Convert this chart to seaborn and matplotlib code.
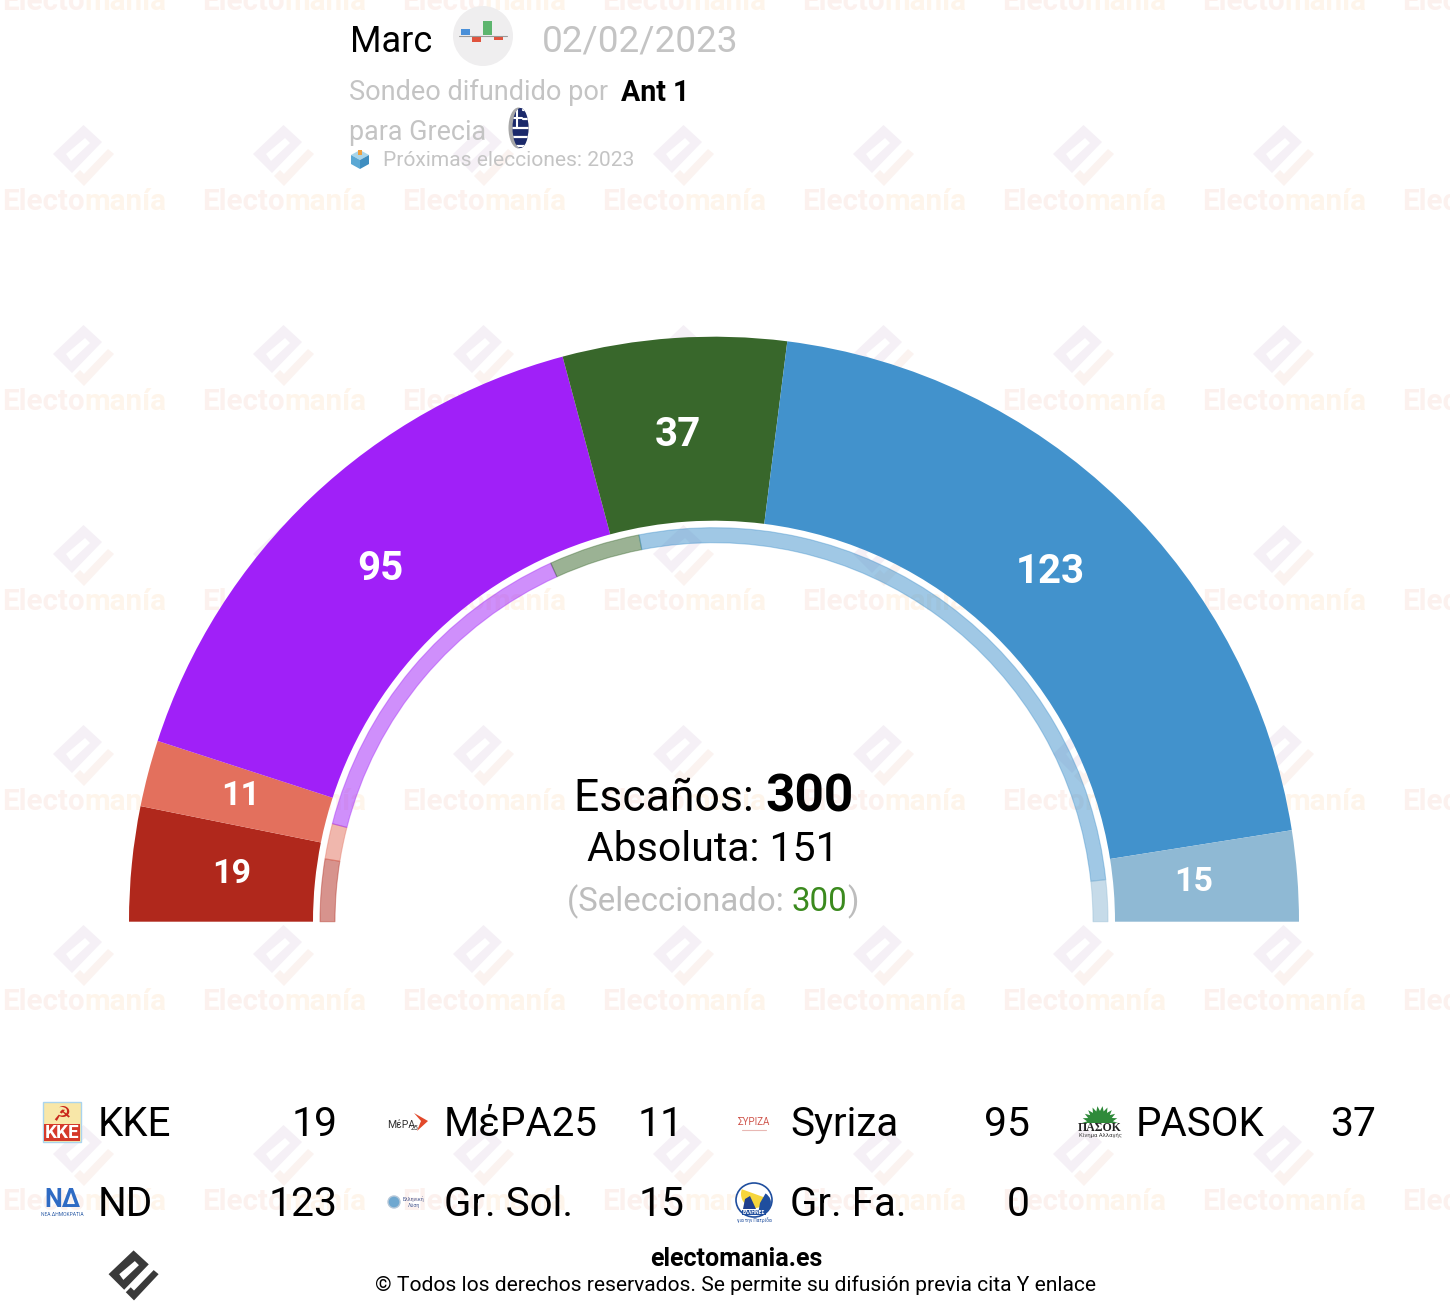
# Seat hemicycle for a Greek poll, with the legend table underneath

import numpy as np
import matplotlib
matplotlib.use('Agg')
import matplotlib.pyplot as plt
from matplotlib.patches import Polygon, Circle, Ellipse, Rectangle, Wedge
import seaborn as sns

parties = ['KKE', 'MέPA25', 'Syriza', 'PASOK', 'ND', 'Gr. Sol.', 'Gr. Fa.']
seats = [19, 11, 95, 37, 123, 15, 0]
inner_share = [5.1, 2.9, 28.4, 7.5, 52.7, 3.4, 0]
party_colors = ['#B0281C', '#E3705D', '#A020F8', '#38672B', '#4292CC', '#8FB9D4', '#1F4E9E']

total_seats = 300
majority = 151
selected = 300

W, H = 1450, 1316
CX, CY = 714, 921.7

# small corrections of the seat labels, in pixels
label_nudge = [(3, -1), (-1, 2), (2, -1), (-3, 0), (-3, -1), (-7, 1), (0, 0)]

DIAMOND = [(-0.5, -30), (18, -13), (-12, 18), (-31, -1)]
SLOT = [(-18, -1), (-13, 6), (6, -12), (1, -17)]
HOOK = [(30, -1), (0, 31), (-10, 21), (-4, 15), (0, 19), (24, -6)]


def logo(ax, x, y, scale=1.0, c1='#F5F0F6', c2='#FBF3F0', hole='white', z=1):
    pts = lambda shape: [(x + scale * a, y + scale * b) for a, b in shape]
    ax.add_patch(Polygon(pts(DIAMOND), fc=c1, ec='none', zorder=z))
    ax.add_patch(Polygon(pts(SLOT), fc=hole, ec='none', zorder=z))
    ax.add_patch(Polygon(pts(HOOK), fc=c2, ec='none', zorder=z))


def chain(ax, x, y, pieces, center=False):
    # writes coloured runs of text one after the other on a baseline
    rend = ax.figure.canvas.get_renderer()
    items = []
    cur = x
    for txt, size, color, weight in pieces:
        t = ax.text(cur, y, txt, fontsize=size, color=color, fontweight=weight,
                    ha='left', va='baseline', zorder=5)
        items.append((t, cur))
        cur += t.get_window_extent(rend).width
    if center:
        shift = (cur - x) / 2
        for t, start in items:
            t.set_x(start - shift)


def icon_kke(ax, x, y):
    ax.add_patch(Rectangle((x - 19, y - 20), 38, 40, fc='#F8E7A8', ec='#A9D4EE', lw=1, zorder=5))
    ax.add_patch(Rectangle((x - 18, y + 2), 36, 17, fc='#D5392A', ec='none', zorder=5))
    ax.text(x, y + 11, 'KKE', fontsize=13.5, fontweight='bold', color='white',
            ha='center', va='center', zorder=6)
    ax.text(x, y - 8, '☭', family='DejaVu Sans', fontsize=15, color='#C9281C',
            ha='center', va='center', zorder=6)


def icon_mera(ax, x, y):
    ax.text(x - 21, y + 3, 'MέPA', fontsize=7.5, color='#333333', ha='left', va='center', zorder=5)
    ax.text(x + 3, y + 6, '25', fontsize=5, color='#333333', ha='left', va='center', zorder=5)
    ax.add_patch(Polygon([(x + 6, y - 9), (x + 20, y - 1), (x + 9, y + 9), (x + 13, y - 1)],
                         fc='#E2492B', ec='none', zorder=5))


def icon_syriza(ax, x, y):
    ax.text(x, y, 'ΣΥΡΙΖΑ', fontsize=7, color='#D0584F', ha='center', va='center', zorder=5)
    ax.plot([x - 12, x + 12], [y + 8, y + 8], color='#E8B8B4', lw=0.8, zorder=5)


def icon_pasok(ax, x, y):
    angs = np.linspace(np.pi, 2 * np.pi, 12)
    rays = [(x - 17, y + 1)]
    for i, a in enumerate(angs):
        rays.append((x + 18 * np.cos(a), y + 1 + 17 * np.sin(a)))
        if i < len(angs) - 1:
            rays.append((x + 13 * np.cos(a + 0.14), y + 1 + 12 * np.sin(a + 0.14)))
    ax.add_patch(Polygon(rays, fc='#2F8A3A', ec='none', zorder=5))
    ax.text(x, y + 6, 'ΠΑΣΟΚ', fontsize=8.5, fontweight='bold', family='Liberation Serif',
            color='#222222', ha='center', va='center', zorder=5)
    ax.text(x, y + 14, 'Κίνημα Αλλαγής', fontsize=4.2, color='#444444', ha='center', va='center', zorder=5)


def icon_nd(ax, x, y):
    ax.text(x, y - 2, 'ΝΔ', fontsize=18, fontweight='bold', color='#2F6BC4',
            ha='center', va='center', zorder=5)
    ax.text(x, y + 13, 'ΝΕΑ ΔΗΜΟΚΡΑΤΙΑ', fontsize=3.6, color='#2F5FA8', ha='center', va='center', zorder=5)


def icon_grsol(ax, x, y):
    ax.add_patch(Circle((x - 14, y), 6, fc='#6FA8D0', ec='#B5C7D8', lw=1, zorder=5))
    ax.text(x + 6, y - 3, 'Ελληνική', fontsize=3.8, color='#4A5A90', ha='center', va='center', zorder=5)
    ax.text(x + 6, y + 3, 'Λύση', fontsize=3.8, color='#4A5A90', ha='center', va='center', zorder=5)


def icon_grfa(ax, x, y):
    ax.add_patch(Ellipse((x, y - 2), 36, 34, fc='white', ec='#1F4E9E', lw=1.2, zorder=5))
    ax.add_patch(Wedge((x + 1, y - 8), 14, 20, 200, fc='#F6D53C', ec='none', zorder=6))
    ax.add_patch(Wedge((x + 6, y + 1), 11, 300, 100, fc='#1F4E9E', ec='none', zorder=6))
    ax.add_patch(Polygon([(x - 11, y + 7), (x - 9, y - 3), (x - 4, y - 6), (x + 2, y + 7)],
                         fc='#1F3F8E', ec='none', zorder=6))
    ax.add_patch(Rectangle((x - 12, y + 8), 24, 5, fc='#1F4E9E', ec='none', zorder=6))
    ax.text(x, y + 10.5, 'ΕΛΛΗΝΕΣ', fontsize=3.6, fontweight='bold', color='white',
            ha='center', va='center', zorder=7)
    ax.text(x, y + 18, 'για την Πατρίδα', fontsize=3.4, color='#1F4E9E', ha='center', va='center', zorder=6)


icons = [icon_kke, icon_mera, icon_syriza, icon_pasok, icon_nd, icon_grsol, icon_grfa]

sns.set_theme(style='white')
plt.rcParams['font.family'] = ['Roboto', 'DejaVu Sans']
palette = sns.color_palette(party_colors)

fig = plt.figure(figsize=(W / 100, H / 100), dpi=100, facecolor='white')
fig.canvas.draw()

# background layer with the watermark, in pixel coordinates
bg = fig.add_axes([0, 0, 1, 1], zorder=0)
bg.set_xlim(0, W)
bg.set_ylim(H, 0)
bg.axis('off')
for col in range(8):
    for row in range(7):
        chain(bg, 84 + 200 * col, 10 + 200 * row,
              [('Electo', 21.3, '#FCF1EE', 'bold'), ('manía', 21.3, '#FEF5EB', 'bold')], center=True)
        if row < 6:
            logo(bg, 84 + 200 * col, 155 + 200 * row)

# the hemicycle itself; polar axes centred on the base of the half circle
R_MAX = 600
pax = fig.add_axes([(CX - R_MAX) / W, 1 - (CY + R_MAX) / H, 2 * R_MAX / W, 2 * R_MAX / H],
                   projection='polar', zorder=1)
pax.set_theta_zero_location('W')
pax.set_theta_direction(-1)
pax.set_rlim(0, R_MAX)
pax.patch.set_alpha(0)
pax.axis('off')

seat_arr = np.array(seats, dtype=float)
seat_left = np.concatenate(([0], np.cumsum(seat_arr)[:-1])) / total_seats * np.pi
seat_width = seat_arr / total_seats * np.pi
pax.bar(seat_left, 184, width=seat_width, bottom=401, align='edge', color=palette, linewidth=0)

share_arr = np.array(inner_share)
share_left = np.concatenate(([0], np.cumsum(share_arr)[:-1])) / share_arr.sum() * np.pi
share_width = share_arr / share_arr.sum() * np.pi
ring_edges = [(*c, 0.4 if s > 0 else 0) for c, s in zip(palette, inner_share)]
pax.bar(share_left, 15, width=share_width, bottom=379, align='edge',
        color=[(*c, 0.5) for c in palette], edgecolor=ring_edges, linewidth=0.8)

for left, width, n, nudge in zip(seat_left, seat_width, seats, label_nudge):
    if n == 0:
        continue
    pax.annotate(str(n), (left + width / 2, 488), xytext=nudge, textcoords='offset pixels',
                 color='white', fontweight='bold', fontsize=24.5 if n < 20 else 29,
                 ha='center', va='center')

# top layer for titles, centre text and legend
top = fig.add_axes([0, 0, 1, 1], zorder=2)
top.set_xlim(0, W)
top.set_ylim(H, 0)
top.axis('off')
top.patch.set_alpha(0)

top.text(350, 52, 'Marc', fontsize=26, color='black', va='baseline')
top.add_patch(Circle((483, 36), 30, fc='#EFEEEF', ec='none'))
top.plot([459, 507], [35.5, 35.5], color='#999999', lw=0.8)
top.add_patch(Rectangle((461, 29), 9, 6, fc='#4A90D9', ec='none'))
top.add_patch(Rectangle((472, 36), 9, 6, fc='#E0533D', ec='none'))
top.add_patch(Rectangle((483, 21), 9, 14, fc='#5DB56E', ec='none'))
top.add_patch(Rectangle((494, 36), 9, 4, fc='#E0533D', ec='none'))
top.text(542, 52, '02/02/2023', fontsize=26.6, color='#C4C4C4', va='baseline')

top.text(349, 100, 'Sondeo difundido por', fontsize=19.5, color='#C4C4C4', va='baseline')
top.text(621, 101, 'Ant 1', fontsize=20.6, color='black', fontweight='bold', va='baseline')
top.text(349, 140, 'para Grecia', fontsize=19.4, color='#C4C4C4', va='baseline')
top.add_patch(Ellipse((518.5, 128), 20, 41, fc='#A8A8A8', ec='none'))
coin = Ellipse((520.5, 128), 16, 40, fc='#1C2A6B', ec='none')
top.add_patch(coin)
for sy in [110, 119, 128, 137, 146]:
    ln, = top.plot([523 if sy < 128 else 512, 530], [sy, sy], color='white', lw=1.6)
    ln.set_clip_path(coin)
for lx, ly in [([512, 522], [118, 118]), ([517, 517], [108, 128])]:
    ln, = top.plot(lx, ly, color='white', lw=1.5)
    ln.set_clip_path(coin)

top.add_patch(Polygon([(351, 155), (360, 150), (369, 155), (360, 160)], fc='#A9D5EA', ec='none'))
top.add_patch(Polygon([(351, 155), (360, 160), (360, 169), (351, 164)], fc='#5BA8D4', ec='none'))
top.add_patch(Polygon([(369, 155), (360, 160), (360, 169), (369, 164)], fc='#3F8EC0', ec='none'))
top.add_patch(Rectangle((358, 150), 4, 5, fc='#F0A040', ec='none'))
top.text(383, 166, 'Próximas elecciones: 2023', fontsize=15.1, color='#C4C4C4', va='baseline')

chain(top, 714, 811, [('Escaños: ', 32, 'black', 'normal'),
                      (str(total_seats), 37, 'black', 'bold')], center=True)
top.text(712.5, 861, 'Absoluta: %d' % majority, fontsize=29.5, color='black', ha='center', va='baseline')
chain(top, 713, 911, [('(Seleccionado: ', 23.8, '#BDBDBD', 'normal'),
                      (str(selected), 23.8, '#3B8A1E', 'normal'),
                      (')', 23.8, '#BDBDBD', 'normal')], center=True)

# legend table, four columns by two rows
for i, (name, n, icon) in enumerate(zip(parties, seats, icons)):
    col, row = i % 4, i // 4
    x0 = 346 * col
    icon_y = 1122 + 80 * row
    icon(top, 62 + x0, icon_y)
    top.text(98 + x0, 1136 + 80 * row, name, fontsize=29, color='black', va='baseline')
    top.text(338 + x0, 1136 + 80 * row, str(n), fontsize=29.4, color='black', ha='right', va='baseline')

logo(top, 134, 1275, scale=0.82, c1='#3A3A3A', c2='#3A3A3A', hole='white', z=4)
top.text(736, 1266, 'electomania.es', fontsize=18, fontweight='bold', color='black',
         ha='center', va='baseline')
top.text(735.5, 1291, '© Todos los derechos reservados. Se permite su difusión previa cita Y enlace',
         fontsize=15.1, color='black', ha='center', va='baseline')

fig.savefig('out.png', dpi=100)
